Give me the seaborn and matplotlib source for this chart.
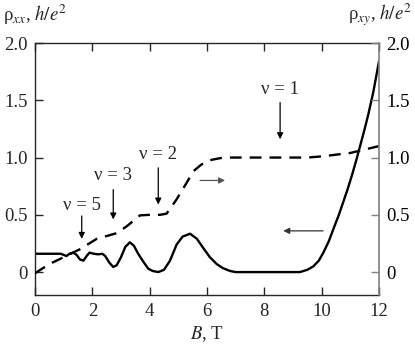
import numpy as np
import pandas as pd
import matplotlib
matplotlib.use("Agg")
import matplotlib.pyplot as plt
import seaborn as sns

# rho_xx (solid, left axis)
b_xx = [0.0, 0.5, 0.9, 1.0, 1.1, 1.2, 1.34, 1.45, 1.57, 1.69, 1.8, 1.9, 2.05, 2.2, 2.35,
        2.45, 2.6, 2.73, 2.85, 3.0, 3.15, 3.31, 3.45, 3.6, 3.78, 3.95, 4.1, 4.3, 4.5,
        4.71, 4.94, 5.15, 5.41, 5.65, 5.87, 6.1, 6.34, 6.55, 6.8, 7.0, 9.24, 9.5, 9.71,
        9.9, 10.06, 10.25, 10.4, 10.6, 10.75, 10.9, 11.05, 11.2, 11.34, 11.5, 11.63,
        11.8, 12.0]
rho_xx = [0.16, 0.16, 0.16, 0.15, 0.14, 0.16, 0.17, 0.15, 0.11, 0.10, 0.14, 0.17, 0.16,
          0.155, 0.16, 0.14, 0.08, 0.045, 0.06, 0.13, 0.22, 0.26, 0.23, 0.16, 0.09, 0.03,
          0.01, 0.0, 0.02, 0.10, 0.24, 0.31, 0.335, 0.29, 0.21, 0.13, 0.07, 0.035, 0.01,
          0.0, 0.0, 0.02, 0.05, 0.10, 0.17, 0.27, 0.37, 0.50, 0.61, 0.72, 0.84, 0.97,
          1.10, 1.25, 1.38, 1.57, 1.84]

# rho_xy (dashed, right axis)
b_xy = [0.0, 0.5, 1.0, 1.57, 2.15, 2.85, 3.2, 3.66, 4.0, 4.36, 4.59, 4.94, 5.29, 5.52,
        5.81, 6.16, 6.57, 9.5, 10.0, 10.5, 11.0, 11.5, 12.0]
rho_xy = [-0.01, 0.07, 0.13, 0.20, 0.29, 0.34, 0.40, 0.495, 0.50, 0.50, 0.51, 0.635,
          0.78, 0.88, 0.94, 0.98, 1.0, 1.0, 1.01, 1.025, 1.04, 1.07, 1.1]

# filling factor labels: text, B position, text height, arrow start, arrow end
nu_text = ["\u03bd = 1", "\u03bd = 2", "\u03bd = 3", "\u03bd = 5"]
nu_b = [8.55, 4.3, 2.73, 1.63]
nu_text_y = [1.59, 1.03, 0.84, 0.58]
nu_arrow_top = [1.48, 0.91, 0.72, 0.49]
nu_arrow_tip = [1.16, 0.59, 0.46, 0.29]

x_ticks = [0, 2, 4, 6, 8, 10, 12]
y_ticks = [0, 0.5, 1.0, 1.5, 2.0]
y_tick_labels = ["0", "0.5", "1.0", "1.5", "2.0"]

sns.set_style("ticks")
plt.rcParams["font.family"] = ["Liberation Serif", "DejaVu Serif"]
plt.rcParams["mathtext.fontset"] = "stix"
fs = 13.5

fig = plt.figure(figsize=(4.15, 3.45), dpi=100)
ax = fig.add_axes([35 / 415, 1 - 295 / 345, 344 / 415, 252 / 345])
ax2 = ax.twinx()

df_xx = pd.DataFrame({"B": b_xx, "rho": rho_xx})
df_xy = pd.DataFrame({"B": b_xy, "rho": rho_xy})
sns.lineplot(data=df_xx, x="B", y="rho", ax=ax, color="black", lw=1.7, sort=False)
sns.lineplot(data=df_xy, x="B", y="rho", ax=ax2, color="black", lw=1.7, sort=False,
             linestyle=(0, (5.0, 3.4)))

for a in (ax, ax2):
    a.set_xlim(0, 12)
    a.set_ylim(-0.2, 2.0)
    a.set_yticks(y_ticks)
    a.set_yticklabels(y_tick_labels)
    a.set_xlabel("")
    a.set_ylabel("")

ax.set_xticks(x_ticks)
ax.set_xticklabels([str(t) for t in x_ticks])
ax.tick_params(axis="both", direction="in", length=6, width=1, labelsize=fs,
               top=True, right=False, pad=5)
ax.tick_params(axis="x", pad=6)
ax2.tick_params(axis="y", direction="in", length=6, width=1, labelsize=fs,
                colors="#808080", labelcolor="black", pad=5)
ax.spines["right"].set_visible(False)
ax2.spines["right"].set_color("#808080")
ax2.spines["right"].set_linewidth(1.2)
for s in ("left", "top", "bottom"):
    ax.spines[s].set_linewidth(1.0)
    ax2.spines[s].set_visible(False)

ax.set_xlabel("$B$, T", fontsize=fs, labelpad=3)

fig.text(3 / 415, 1 - 15 / 345, "\u03c1$_{xx}$, $h/e^2$", fontsize=fs,
         ha="left", va="center")
fig.text(412 / 415, 1 - 15 / 345, "\u03c1$_{xy}$, $h/e^2$", fontsize=fs,
         ha="right", va="center")

for t, b, ty, y0, y1 in zip(nu_text, nu_b, nu_text_y, nu_arrow_top, nu_arrow_tip):
    ax.text(b, ty, t, fontsize=fs, ha="center", va="center")
    ax.annotate("", xy=(b, y1), xytext=(b, y0),
                arrowprops=dict(arrowstyle="-|>", color="black", lw=0.9,
                                mutation_scale=9, shrinkA=0, shrinkB=0))

# arrows telling which axis each curve belongs to
ax.annotate("", xy=(6.63, 0.80), xytext=(5.76, 0.80),
            arrowprops=dict(arrowstyle="-|>", color="#555555", lw=0.9,
                            mutation_scale=9, shrinkA=0, shrinkB=0))
ax.annotate("", xy=(8.66, 0.36), xytext=(10.05, 0.36),
            arrowprops=dict(arrowstyle="-|>", color="#333333", lw=0.9,
                            mutation_scale=9, shrinkA=0, shrinkB=0))

fig.savefig("out.png", dpi=100)
